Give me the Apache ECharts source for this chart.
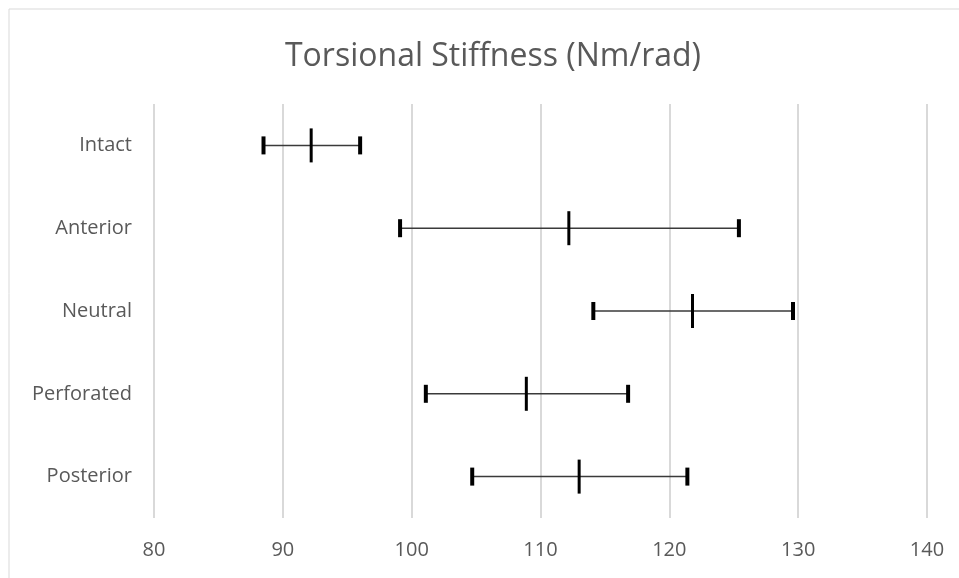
<!DOCTYPE html>
<html>
<head>
<meta charset="utf-8">
<script src="https://cdn.jsdelivr.net/npm/echarts@6/dist/echarts.min.js"></script>
<style>
  html, body { margin: 0; padding: 0; background: #fff; }
  #chart { width: 959px; height: 578px; }
</style>
</head>
<body>
<div id="chart"></div>
<script>
// categories, top to bottom
const categories = ["Intact", "Anterior", "Neutral", "Perforated", "Posterior"];
// mean stiffness and error bar ends (Nm/rad)
const meanValues = [92.2, 112.2, 121.8, 108.9, 113.0];
const lowValues = [88.5, 99.1, 114.1, 101.1, 104.7];
const highValues = [96.0, 125.4, 129.6, 116.8, 121.4];
const xTicks = [80, 90, 100, 110, 120, 130, 140];

const chart = echarts.init(document.getElementById("chart"));

const seriesData = categories.map((c, i) => [i, lowValues[i], meanValues[i], highValues[i]]);

// draws one error bar: whisker line, end caps, mean tick
function renderBar(params, api) {
  const cat = api.value(0);
  const pLow = api.coord([api.value(1), cat]);
  const pMid = api.coord([api.value(2), cat]);
  const pHigh = api.coord([api.value(3), cat]);
  const y = pMid[1];
  return {
    type: "group",
    children: [
      {
        type: "line",
        shape: { x1: pLow[0], y1: y, x2: pHigh[0], y2: y },
        style: { stroke: "#3a3a3a", lineWidth: 1.5 }
      },
      {
        type: "line",
        shape: { x1: pLow[0], y1: y - 9, x2: pLow[0], y2: y + 9 },
        style: { stroke: "#000", lineWidth: 4 }
      },
      {
        type: "line",
        shape: { x1: pHigh[0], y1: y - 9, x2: pHigh[0], y2: y + 9 },
        style: { stroke: "#000", lineWidth: 4 }
      },
      {
        type: "line",
        shape: { x1: pMid[0], y1: y - 17, x2: pMid[0], y2: y + 17 },
        style: { stroke: "#000", lineWidth: 3 }
      }
    ]
  };
}

const option = {
  backgroundColor: "#fff",
  animation: false,
  title: {
    text: "Torsional Stiffness (Nm/rad)",
    left: 488,
    top: 36,
    textAlign: "center",
    textStyle: {
      fontFamily: "Open Sans",
      fontWeight: "normal",
      fontSize: 32,
      color: "#595959"
    }
  },
  graphic: [
    {
      type: "polyline",
      shape: { points: [[9, 578], [9, 9], [959, 9]] },
      style: { stroke: "#d9d9d9", lineWidth: 1, fill: null },
      silent: true
    }
  ],
  grid: {
    left: 154,
    right: 32,
    top: 104,
    bottom: 60
  },
  xAxis: {
    type: "value",
    min: xTicks[0],
    max: xTicks[xTicks.length - 1],
    interval: 10,
    axisLine: { show: false },
    axisTick: { show: false },
    splitLine: { lineStyle: { color: "#d9d9d9", width: 2 } },
    axisLabel: {
      color: "#595959",
      fontFamily: "Open Sans",
      fontSize: 20,
      margin: 22
    }
  },
  yAxis: {
    type: "category",
    data: categories,
    inverse: true,
    axisLine: { show: false },
    axisTick: { show: false },
    axisLabel: {
      color: "#595959",
      fontFamily: "Open Sans",
      fontSize: 20,
      margin: 22
    }
  },
  series: [
    {
      type: "custom",
      renderItem: renderBar,
      encode: { x: [1, 2, 3], y: 0 },
      data: seriesData
    }
  ]
};

chart.setOption(option);
</script>
</body>
</html>
